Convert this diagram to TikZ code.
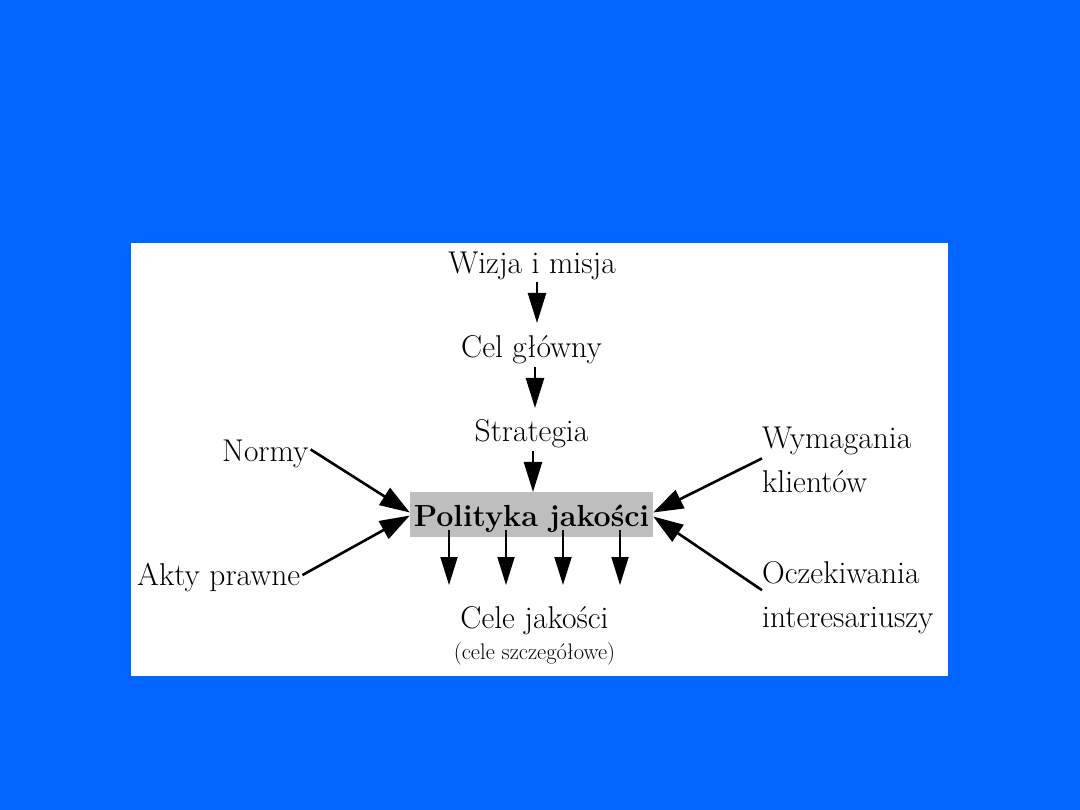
\documentclass[tikz,border=0pt]{standalone}
\usetikzlibrary{arrows.meta}
\definecolor{bgblue}{HTML}{0066FF}
\definecolor{boxgray}{HTML}{BEBEBE}
\begin{document}
\begin{tikzpicture}[x=1pt,y=-1pt,
  lbl/.style={inner sep=0pt,font=\fontsize{31.5}{44}\selectfont},
  small/.style={inner sep=0pt,font=\fontsize{22.5}{26}\selectfont},
  big/.style={line width=2.4pt,-{Triangle[length=30pt,width=18pt]}},
  side/.style={line width=2.6pt,-{Triangle[length=30pt,width=20pt]}},
  dn/.style={line width=1.8pt,-{Triangle[length=28pt,width=17pt]}}]
\fill[bgblue] (0,0) rectangle (1080,810);
\useasboundingbox (0,0) rectangle (1080,810);
\fill[white] (131,243) rectangle (948,676);
% gray box
\node[fill=boxgray,minimum width=243pt,minimum height=45pt,inner sep=0pt] (pol) at (531.5,514.5) {};
\node[lbl,anchor=base,font=\fontsize{30.5}{44}\selectfont\bfseries] (poltxt) at (531.5,526) {Polityka jakości};
% top chain
\node[lbl,anchor=base] (wiz) at (532,274) {Wizja i misja};
\node[lbl,anchor=base] (cel) at (531.5,358) {Cel główny};
\node[lbl,anchor=base] (str) at (531.5,442) {Strategia};
\coordinate (a1s) at (537,282); \coordinate (a1e) at (537,323);
\coordinate (a2s) at (535,367); \coordinate (a2e) at (535,408);
\coordinate (a3s) at (533,451); \coordinate (a3e) at (533,492);
\draw[big] (a1s) -- (a1e);
\draw[big] (a2s) -- (a2e);
\draw[big] (a3s) -- (a3e);
% bottom
\node[lbl,anchor=base] (cj) at (534.5,628) {Cele jakości};
\node[small,anchor=base] (cs) at (534.5,659) {(cele szczegółowe)};
\foreach \i/\x in {1/449,2/506,3/563,4/620}{
  \coordinate (d\i s) at (\x,530);
  \coordinate (d\i e) at (\x,585);
  \draw[dn] (d\i s) -- (d\i e);
}
% left
\node[lbl,anchor=base west] (norm) at (222,462) {Normy};
\node[lbl,anchor=base west] (akty) at (137,585) {Akty prawne};
\draw[side] ([xshift=2pt,yshift=5pt]norm.east) -- ([yshift=2pt]pol.west);
\draw[side] ([xshift=2pt,yshift=2pt]akty.east) -- ([yshift=-1pt]pol.west);
% right
\node[lbl,anchor=base west,align=left] (wym) at (762,493) {Wymagania\\klientów};
\node[lbl,anchor=base west,align=left] (ocz) at (762,627) {Oczekiwania\\interesariuszy};
\draw[side] ([yshift=2pt]wym.west) -- ([yshift=2pt]pol.east);
\draw[side] ([yshift=7pt]ocz.west) -- ([yshift=-2pt]pol.east);
\end{tikzpicture}
\end{document}
